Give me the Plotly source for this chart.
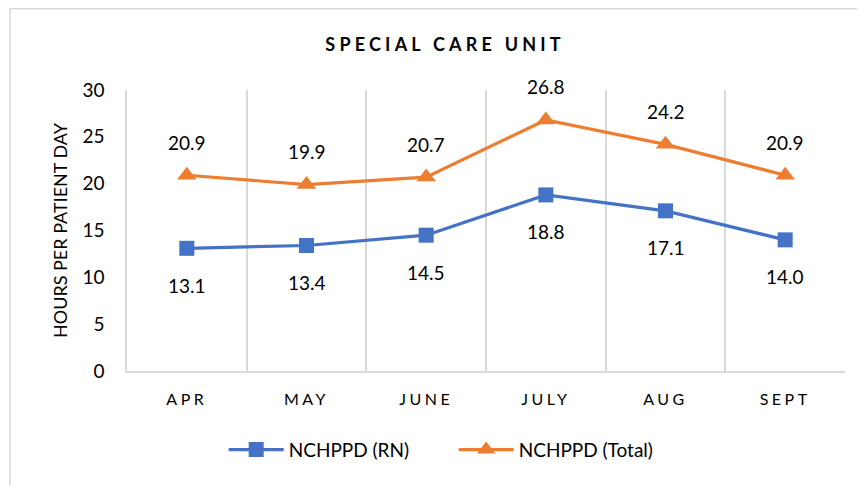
import plotly.graph_objects as go

months = ["APR", "MAY", "JUNE", "JULY", "AUG", "SEPT"]
rn_values = [13.1, 13.4, 14.5, 18.8, 17.1, 14.0]
total_values = [20.9, 19.9, 20.7, 26.8, 24.2, 20.9]
y_ticks = [0, 5, 10, 15, 20, 25, 30]

BLUE = "#4472C4"
ORANGE = "#ED7D31"
GRID = "#D9D9D9"
FONT = "Lato, 'Open Sans', sans-serif"

xs = list(range(len(months)))

fig = go.Figure()
fig.add_trace(go.Scatter(
    x=xs, y=rn_values, name="NCHPPD (RN)", mode="lines+markers",
    line=dict(color=BLUE, width=3.2),
    marker=dict(symbol="square", size=15, color=BLUE),
))
fig.add_trace(go.Scatter(
    x=xs, y=total_values, name="NCHPPD (Total)", mode="lines+markers",
    line=dict(color=ORANGE, width=3.2),
    marker=dict(symbol="triangle-up", size=17, color=ORANGE),
))

annotations = []
for x, v in zip(xs, total_values):
    annotations.append(dict(x=x, y=v, xref="x", yref="y", text=f"{v:.1f}",
                            showarrow=False, yshift=33,
                            font=dict(size=19, color="#000000", family=FONT)))
for x, v in zip(xs, rn_values):
    annotations.append(dict(x=x, y=v, xref="x", yref="y", text=f"{v:.1f}",
                            showarrow=False, yshift=-37,
                            font=dict(size=19, color="#000000", family=FONT)))

spaced = [f"<span style='letter-spacing:3.5px'>{m}</span>" for m in months]

fig.update_layout(
    width=857, height=477,
    margin=dict(l=119, r=20, t=82, b=114),
    paper_bgcolor="white", plot_bgcolor="white",
    font=dict(family=FONT, color="#000000"),
    title=dict(text="<b><span style='letter-spacing:4.2px'>SPECIAL CARE UNIT</span></b>",
               x=0.51, xanchor="center", y=0.924, yanchor="middle",
               font=dict(size=18, color="#000000", family=FONT)),
    showlegend=True,
    legend=dict(orientation="h", x=0.455, xanchor="center", y=-0.28, yanchor="middle",
                font=dict(size=19, color="#000000", family=FONT), itemwidth=55,
                entrywidth=160, bgcolor="rgba(0,0,0,0)"),
    annotations=annotations,
    shapes=[dict(type="rect", xref="paper", yref="paper",
                 x0=-0.163, x1=1.2, y0=-1.0, y1=1.289,
                 line=dict(color=GRID, width=1.5), fillcolor="rgba(0,0,0,0)",
                 layer="below")],
)

fig.update_xaxes(
    range=[-0.5, len(months) - 0.5],
    tickvals=xs, ticktext=spaced,
    tickfont=dict(size=16, color="#000000", family=FONT),
    showgrid=False, zeroline=False,
    showline=True, linecolor=GRID, linewidth=1.5, mirror=False,
    ticks="", ticklabelstandoff=13,
    minor=dict(tick0=-0.5, dtick=1, showgrid=True, gridcolor=GRID, gridwidth=1.5),
)
fig.update_yaxes(
    range=[0, 30], tickvals=y_ticks,
    tickfont=dict(size=19, color="#000000", family=FONT),
    showgrid=False, zeroline=False,
    showline=True, linecolor=GRID, linewidth=1.5,
    ticks="", ticklabelstandoff=17,
    title=dict(text="HOURS PER PATIENT DAY", standoff=10,
               font=dict(size=18, color="#000000", family=FONT)),
)

fig.write_html("out.html")
